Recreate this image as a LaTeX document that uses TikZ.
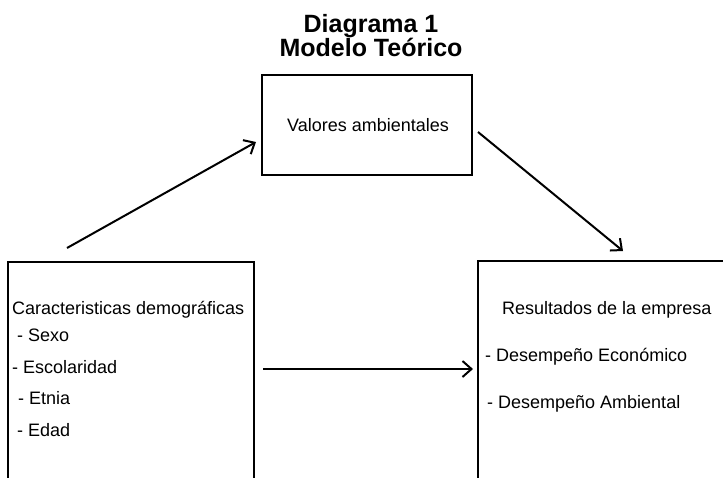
\documentclass[tikz,border=0pt]{standalone}
\usepackage{fontspec}
\setmainfont{Liberation Sans}
\usetikzlibrary{arrows.meta}
\tikzset{
  boxline/.style={line width=2pt, draw=black},
  conn/.style={line width=2pt, -{Straight Barb[length=9pt,width=16pt,line width=2pt]}},
  txt/.style={inner sep=0pt, anchor=base west, text=black, font=\fontsize{18}{22}\selectfont},
  ttl/.style={inner sep=0pt, anchor=base, font=\fontsize{25}{29}\selectfont\bfseries}
}
\begin{document}
\begin{tikzpicture}[x=1pt,y=-1pt]
\useasboundingbox (0,0) rectangle (723,477);
% title
\node[ttl] (t1) at (371,32) {Diagrama 1};
\node[ttl] (t2) at (371,56) {Modelo Teórico};
% boxes
\draw[boxline] (262,75) rectangle (472,175);
\draw[boxline] (8,478) -- (8,262) -- (254,262) -- (254,478);
\draw[boxline] (478,478) -- (478,261) -- (724,261);
% texts
\node[txt, anchor=center] (va) at (368,125) {Valores ambientales};
\node[txt] (cd) at (12,314) {Caracteristicas demográficas};
\node[txt] (sx) at (17,341) {- Sexo};
\node[txt] (es) at (12,373) {- Escolaridad};
\node[txt] (et) at (18,404) {- Etnia};
\node[txt] (ed) at (17,436) {- Edad};
\node[txt] (re) at (502,314) {Resultados de la empresa};
\node[txt] (de) at (485,361) {- Desempeño Económico};
\node[txt] (da) at (487,408) {- Desempeño Ambiental};
% connectors
\coordinate (a1s) at (67,248);
\coordinate (a1e) at (256,142);
\coordinate (a2s) at (478,132);
\coordinate (a2e) at (623,251);
\coordinate (a3s) at (263,369);
\coordinate (a3e) at (473,369);
\draw[conn] (a1s) -- (a1e);
\draw[conn] (a2s) -- (a2e);
\draw[conn] (a3s) -- (a3e);
\end{tikzpicture}
\end{document}
